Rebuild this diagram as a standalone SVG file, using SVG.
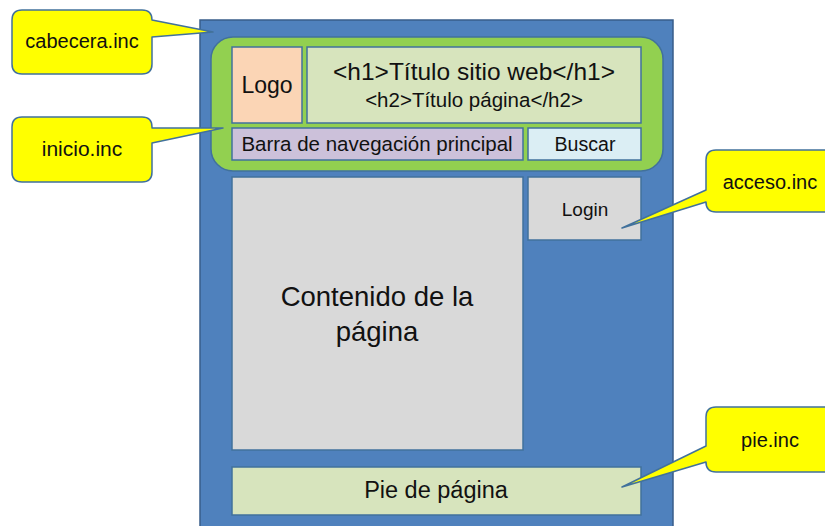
<svg xmlns="http://www.w3.org/2000/svg" width="825" height="526" viewBox="0 0 825 526">
<style>
text{font-family:"Liberation Sans",Arial,sans-serif;fill:#111;text-anchor:middle}
.box{stroke:#41719C;stroke-width:1.5}
.call{fill:#FFFF00;stroke:#41719C;stroke-width:1.5;stroke-linejoin:round}
</style>
<rect width="825" height="526" fill="#fff"/>
<g id="page">
<rect x="200" y="20" width="473" height="520" fill="#4F81BD" stroke="#385D8A" stroke-width="1.5"/>
</g>
<g id="header">
<rect x="211" y="37" width="452" height="134" rx="22" fill="#92D050" stroke="#41719C" stroke-width="1.5"/>
</g>
<g id="logo">
<rect class="box" x="232" y="47" width="70" height="76" fill="#FBD5B5"/>
<text x="267" y="93" font-size="23">Logo</text>
</g>
<g id="titles">
<rect class="box" x="307" y="47" width="334" height="76" fill="#D7E4BD"/>
<text x="474" y="80" font-size="24.5">&lt;h1&gt;Título sitio web&lt;/h1&gt;</text>
<text x="474" y="107" font-size="20.5">&lt;h2&gt;Título página&lt;/h2&gt;</text>
</g>
<g id="nav">
<rect class="box" x="232" y="128" width="291" height="32" fill="#CCC1DA"/>
<text x="377" y="151" font-size="20.5">Barra de navegación principal</text>
</g>
<g id="search">
<rect class="box" x="528" y="128" width="113" height="32" fill="#DBEEF4"/>
<text x="585" y="151" font-size="19.6">Buscar</text>
</g>
<g id="content">
<rect class="box" x="232" y="177" width="291" height="273" fill="#D9D9D9"/>
<text x="377" y="306" font-size="27.5">Contenido de la</text>
<text x="377" y="341" font-size="27.5">página</text>
</g>
<g id="login">
<rect class="box" x="528" y="177" width="113" height="63" fill="#D9D9D9"/>
<text x="585" y="216" font-size="19">Login</text>
</g>
<g id="footer">
<rect class="box" x="232" y="467" width="409" height="48" fill="#D7E4BD"/>
<text x="436" y="498" font-size="23.5">Pie de página</text>
</g>
<g id="connectors">
<path class="call" d="M22 10 H142 Q152 10 152 20 L213 32 L152 37 V64 Q152 74 142 74 H22 Q12 74 12 64 V20 Q12 10 22 10 Z"/>
<path class="call" d="M22 117 H142 Q152 117 152 127 V128 L223 128 L152 143 V172 Q152 182 142 182 H22 Q12 182 12 172 V127 Q12 117 22 117 Z"/>
<path class="call" d="M716 150 H845 V212 H716 Q706 212 706 202 L622 228 L706 190 V160 Q706 150 716 150 Z"/>
<path class="call" d="M716 407 H845 V472 H716 Q706 472 706 462 L622 487 L706 446 V417 Q706 407 716 407 Z"/>
</g>
<g id="cabecera">
<text x="82" y="48" font-size="20">cabecera.inc</text>
</g>
<g id="inicio">
<text x="82" y="156" font-size="21">inicio.inc</text>
</g>
<g id="acceso">
<text x="770" y="189" font-size="20">acceso.inc</text>
</g>
<g id="pie">
<text x="770" y="447" font-size="20">pie.inc</text>
</g>
</svg>
